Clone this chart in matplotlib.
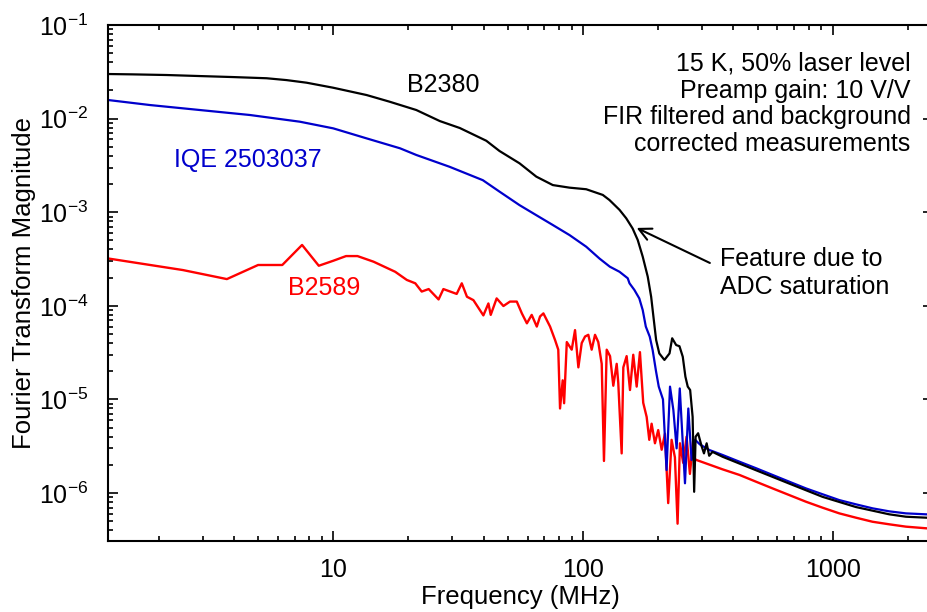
import matplotlib
matplotlib.use('Agg')
import matplotlib.pyplot as plt
from matplotlib.ticker import FuncFormatter, NullFormatter, LogLocator

plt.rcParams['font.family'] = ['Liberation Sans', 'DejaVu Sans']
plt.rcParams['mathtext.fontset'] = 'custom'
plt.rcParams['mathtext.rm'] = 'Liberation Sans'
plt.rcParams['mathtext.it'] = 'Liberation Sans:italic'
plt.rcParams['mathtext.bf'] = 'Liberation Sans:bold'
plt.rcParams['axes.unicode_minus'] = False

# B2380 (black)
freq_b2380 = [1.256, 1.58, 2.15, 2.92, 3.97, 5.41, 6.5, 7.82, 9.98, 13.6, 16.8, 21.5,
              26.7, 32.1, 41.0, 46.3, 55.7, 65, 75.7, 88.3, 103, 120, 127.6, 140, 149,
              158, 165.6, 173.4, 181.6, 187.4, 191.4, 196.2, 202, 211.8, 222, 227.5,
              236, 243.3, 250.8, 257, 262.6, 268.5, 274.7, 278.6, 282.4, 289, 298,
              305, 312.6, 320, 330, 362, 493, 670, 910, 1238, 1683, 1963, 2359, 2520]
mag_b2380 = [0.02996, 0.0297, 0.02924, 0.0285, 0.0278, 0.027, 0.0258, 0.0242, 0.0214,
             0.01786, 0.01517, 0.01236, 0.00942, 0.00794, 0.0058, 0.00451, 0.00333,
             0.0024, 0.00195, 0.00183, 0.00176, 0.00153, 0.00135, 0.00106, 8.6e-4,
             6.7e-4, 5.05e-4, 3.35e-4, 2.05e-4, 1.25e-4, 7.65e-5, 4.32e-5, 3.1e-5,
             2.64e-5, 3.1e-5, 4.5e-5, 3.81e-5, 3.7e-5, 2.86e-5, 1.75e-5, 1.37e-5,
             1.26e-5, 6.5e-6, 1.03e-6, 4.0e-6, 4.35e-6, 3.2e-6, 2.65e-6, 3.4e-6,
             2.5e-6, 2.75e-6, 2.44e-6, 1.75e-6, 1.26e-6, 9.1e-7, 7.08e-7, 5.92e-7,
             5.58e-7, 5.45e-7, 5.42e-7]

# IQE 2503037 (blue)
freq_iqe = [1.256, 1.845, 2.92, 4.64, 7.35, 10, 13.6, 18.5, 21.5, 29.2, 39.7, 46.3,
            55.7, 65, 75.7, 88.3, 103, 116.4, 128, 140, 151, 153.5, 160.5, 168, 173.4,
            178.4, 185, 190, 196, 201, 209, 216, 223, 230, 237, 244, 256, 264, 272,
            281, 294, 320.6, 362, 423, 493, 574, 670, 781, 910, 1062, 1238, 1443,
            1683, 1963, 2359, 2520]
mag_iqe = [0.0158, 0.01397, 0.01236, 0.01093, 0.00927, 0.00787, 0.00615, 0.00482,
           0.00409, 0.00306, 0.0022, 0.00166, 0.00119, 9.3e-4, 7.3e-4, 5.7e-4,
           4.28e-4, 3.2e-4, 2.62e-4, 2.31e-4, 1.97e-4, 1.74e-4, 1.48e-4, 1.2e-4,
           9.0e-5, 6.0e-5, 4.68e-5, 3.37e-5, 2.0e-5, 1.37e-5, 1.0e-5, 1.76e-6,
           1.37e-5, 7.7e-6, 3.0e-6, 1.31e-5, 1.27e-6, 8.0e-6, 2.25e-6, 3.7e-6,
           3.3e-6, 2.88e-6, 2.55e-6, 2.16e-6, 1.84e-6, 1.56e-6, 1.32e-6, 1.12e-6,
           9.7e-7, 8.4e-7, 7.57e-7, 6.86e-7, 6.37e-7, 6.06e-7, 5.92e-7, 5.88e-7]

# B2589 (red)
freq_b2589 = [1.25, 2.5, 3.75, 5.0, 6.25, 7.5, 8.75, 10.0, 11.25, 12.5, 14.5, 17.7,
              19.7, 21.3, 22.6, 24.1, 26.4, 27.6, 29.4, 31.2, 32.7, 34.3, 36.4, 39.9,
              41.8, 42.7, 45.1, 48.0, 51.0, 54.3, 56.9, 59.6, 62.3, 65.3, 67.3, 69.4,
              73.8, 77.3, 79.6, 80.9, 82.9, 84.0, 86.1, 90.1, 92.9, 95.8, 98.8, 101.9,
              105, 108.3, 111.7, 115.1, 118.8, 121.3, 124.4, 128.3, 132.2, 136.4,
              138.4, 142.8, 145, 149.5, 154.2, 158.9, 164, 169, 174.2, 179.8, 184.2,
              188.2, 194.1, 200, 206.5, 212.8, 219.3, 226.3, 233.3, 239.1, 244.4,
              251.8, 259.8, 267.9, 276.2, 280.5, 285, 362, 423, 493, 574, 670, 781,
              910, 1062, 1238, 1443, 1683, 1963, 2359, 2520]
mag_b2589 = [3.21e-4, 2.41e-4, 1.93e-4, 2.73e-4, 2.73e-4, 4.47e-4, 2.68e-4, 3.03e-4,
             3.4e-4, 3.4e-4, 2.96e-4, 2.31e-4, 1.89e-4, 1.74e-4, 1.42e-4, 1.51e-4,
             1.17e-4, 1.51e-4, 1.42e-4, 1.34e-4, 1.74e-4, 1.25e-4, 1.15e-4, 7.9e-5,
             1.06e-4, 8.0e-5, 1.2e-4, 9.95e-5, 1.11e-4, 1.11e-4, 8.3e-5, 6.5e-5,
             8.0e-5, 6.0e-5, 7.7e-5, 8.3e-5, 6.0e-5, 4.3e-5, 3.4e-5, 8.0e-6, 1.6e-5,
             9.1e-6, 4.1e-5, 3.4e-5, 5.5e-5, 2.2e-5, 4.0e-5, 4.7e-5, 4.9e-5, 3.4e-5,
             4.9e-5, 4.1e-5, 2.4e-5, 2.2e-6, 3.4e-5, 2.9e-5, 1.4e-5, 2.4e-5, 1.5e-5,
             2.65e-6, 2.2e-5, 2.9e-5, 1.26e-5, 3.0e-5, 1.37e-5, 3.2e-5, 9.2e-6,
             6.5e-6, 3.7e-6, 5.5e-6, 3.4e-6, 4.7e-6, 2.9e-6, 4.3e-6, 7.8e-7, 3.7e-6,
             2.4e-6, 4.7e-7, 3.4e-6, 2.1e-6, 4.0e-6, 1.6e-6, 3.7e-6, 2.3e-6, 2.25e-6,
             1.79e-6, 1.56e-6, 1.32e-6, 1.12e-6, 9.5e-7, 8.07e-7, 6.97e-7, 6.06e-7,
             5.45e-7, 4.93e-7, 4.63e-7, 4.37e-7, 4.2e-7, 4.15e-7]

info_text = ('15 K, 50% laser level\nPreamp gain: 10 V/V\n'
             'FIR filtered and background\ncorrected measurements')

fig = plt.figure(figsize=(9.27, 6.12), dpi=100)
ax = fig.add_axes([0.1162, 0.116, 0.8903, 0.8431])

ax.plot(freq_b2589, mag_b2589, color='#ff0000', lw=1.7)
ax.plot(freq_iqe, mag_iqe, color='#0000cc', lw=1.6)
ax.plot(freq_b2380, mag_b2380, color='black', lw=1.6)

ax.set_xscale('log')
ax.set_yscale('log')
ax.set_xlim(1.25, 2520)
ax.set_ylim(3.07e-7, 0.1)

ax.xaxis.set_major_formatter(FuncFormatter(lambda v, p: f'{v:g}'))
ax.xaxis.set_minor_formatter(NullFormatter())
ax.yaxis.set_minor_locator(LogLocator(base=10, subs=range(2, 10), numticks=20))
ax.yaxis.set_minor_formatter(NullFormatter())

ax.tick_params(which='both', direction='in', top=True, right=True, width=1.2,
               labelsize=18)
ax.tick_params(which='major', length=7)
ax.tick_params(which='minor', length=3.6)
ax.tick_params(axis='x', pad=12)
ax.tick_params(axis='y', pad=14)
for sp in ax.spines.values():
    sp.set_linewidth(1.5)

ax.set_xlabel('Frequency (MHz)', fontsize=18.5)
ax.set_ylabel('Fourier Transform Magnitude', fontsize=18.5)
ax.xaxis.set_label_coords(0.5, -0.086)
ax.yaxis.set_label_coords(-0.087, 0.5)

ax.text(27.5, 0.0229, 'B2380', color='black', fontsize=18, ha='center', va='center')
ax.text(4.53, 0.00361, 'IQE 2503037', color='#0000cc', fontsize=18,
        ha='center', va='center')
ax.text(9.2, 1.54e-4, 'B2589', color='#ff0000', fontsize=18, ha='center', va='center')

ax.text(0.973, 0.847, info_text, transform=ax.transAxes, fontsize=18,
        ha='right', va='center', multialignment='right', linespacing=1.15)

ax.text(355, 2.24e-4, 'Feature due to\nADC saturation', fontsize=18,
        ha='left', va='center', linespacing=1.2)
ax.annotate('', xy=(164, 6.8e-4), xytext=(322, 2.87e-4),
            arrowprops=dict(arrowstyle='->', color='black', lw=1.5,
                            mutation_scale=22, shrinkA=0, shrinkB=0))

plt.savefig('out.png', dpi=100)
plt.close()
